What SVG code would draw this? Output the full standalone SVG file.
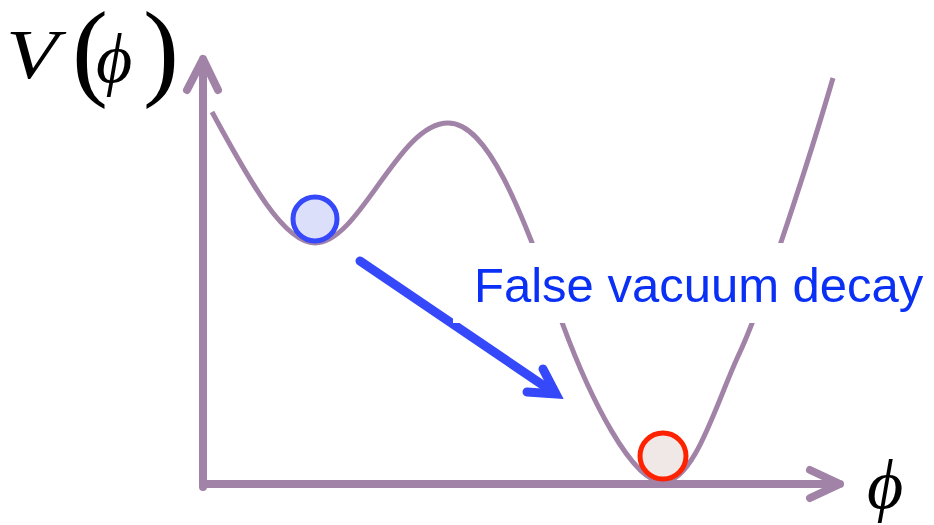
<svg xmlns="http://www.w3.org/2000/svg" width="934" height="525" viewBox="0 0 934 525">
<style>
.ax{fill:none;stroke:#a283a8;stroke-width:8;stroke-linecap:round;stroke-linejoin:round}
.curve{fill:none;stroke:#a283a8;stroke-width:5}
.math{font-family:"Liberation Serif","DejaVu Serif",serif;font-style:italic;fill:#000}
.paren{font-family:"Liberation Serif","DejaVu Serif",serif;font-style:normal}
.lbl{font-family:"Liberation Sans",Arial,sans-serif;font-size:49px;fill:#0a2ff5}
</style>
<g id="axes">
<path class="ax" d="M203,487 V59 M187,90 L203,59 L218,90"/>
<path class="ax" d="M203,484 H840 M810,470 L840,484 L810,498"/>
</g>
<g id="potential">
<path class="curve" d="M212,112 C245,172 282,243 315,243 C360,243 398,123 448,123 C490,123 523,217 563,325 C590,398 632,482 663,482 C695,482 717,400 740,352 C764,300 812,150 833,78"/>
</g>
<g id="connectors">
<path d="M360,261 L553,392" fill="none" stroke="#3548fa" stroke-width="9" stroke-linecap="round"/>
<path d="M543,369 L556,394 L527,392" fill="none" stroke="#3548fa" stroke-width="9" stroke-linecap="round" stroke-linejoin="miter"/>
</g>
<g id="label">
<rect x="453" y="243" width="481" height="80" fill="#fff"/>
<text class="lbl" x="474" y="302">False vacuum decay</text>
</g>
<g id="false-vacuum">
<circle cx="315" cy="219" r="22" fill="#dcdffa" stroke="#3548fa" stroke-width="5"/>
</g>
<g id="true-vacuum">
<circle cx="663" cy="456" r="23" fill="#f0e8e6" stroke="#ff2200" stroke-width="5"/>
</g>
<g id="ylabel">
<text class="math" transform="translate(6,78) scale(1.22,1)" font-size="70">V</text>
<text class="math"><tspan class="paren" x="72" y="86" font-size="108">(</tspan><tspan x="96" y="82" font-size="70">ϕ</tspan><tspan class="paren" x="143" y="86" font-size="108">)</tspan></text>
</g>
<g id="xlabel">
<text class="math" x="867" y="508" font-size="70">ϕ</text>
</g>
</svg>
